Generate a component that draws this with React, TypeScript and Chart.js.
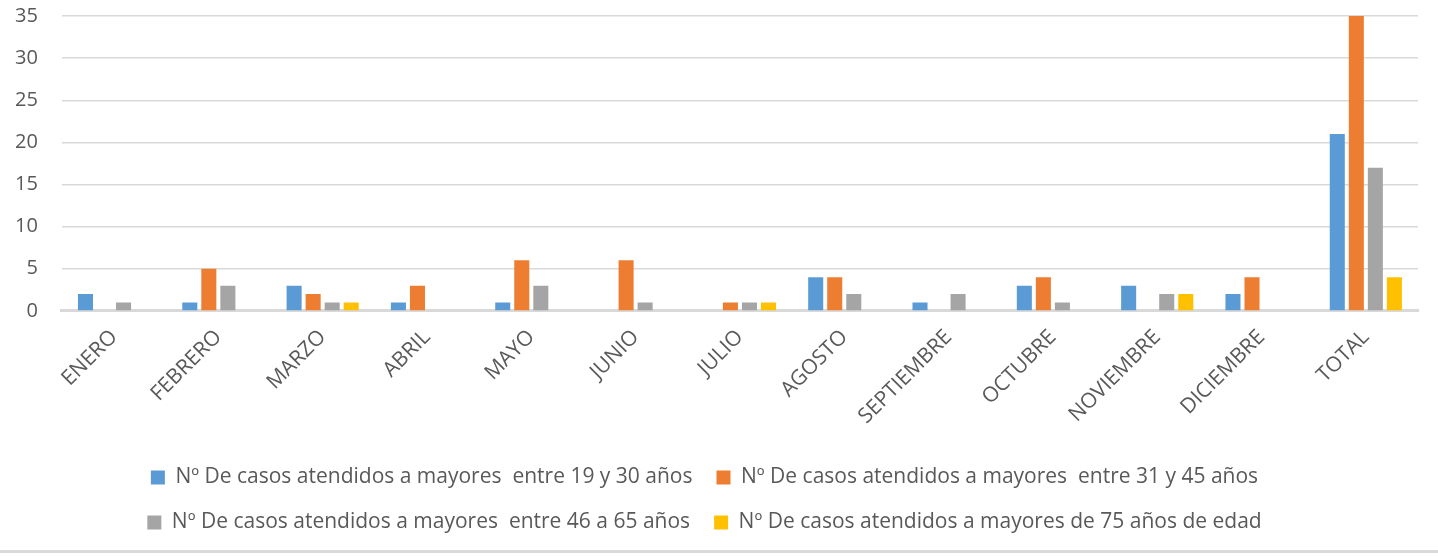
import React, { useEffect, useRef } from "react";
import { Chart, registerables } from "chart.js";

Chart.register(...registerables);

const categories = [
  "ENERO", "FEBRERO", "MARZO", "ABRIL", "MAYO", "JUNIO", "JULIO",
  "AGOSTO", "SEPTIEMBRE", "OCTUBRE", "NOVIEMBRE", "DICIEMBRE", "TOTAL",
];
const serie19a30 = [2, 1, 3, 1, 1, 0, 0, 4, 1, 3, 3, 2, 21];
const serie31a45 = [0, 5, 2, 3, 6, 6, 1, 4, 0, 4, 0, 4, 35];
const serie46a65 = [1, 3, 1, 0, 3, 1, 1, 2, 2, 1, 2, 0, 17];
const serie75 = [0, 0, 1, 0, 0, 0, 1, 0, 0, 0, 2, 0, 4];
const seriesNames = [
  "Nº De casos atendidos a mayores  entre 19 y 30 años",
  "Nº De casos atendidos a mayores  entre 31 y 45 años",
  "Nº De casos atendidos a mayores  entre 46 a 65 años",
  "Nº De casos atendidos a mayores de 75 años de edad",
];
const seriesColors = ["#5B9BD5", "#ED7D31", "#A5A5A5", "#FFC000"];
const yTicks = [0, 5, 10, 15, 20, 25, 30, 35];

const FONT = "'Open Sans', sans-serif";
const TEXT = "#595959";
const noPadding = () => ({ left: 0, top: 0, right: 0, bottom: 0 });

export default function App() {
  const ref = useRef<HTMLCanvasElement | null>(null);
  useEffect(() => {
    document.body.style.margin = "0";
    const values = [serie19a30, serie31a45, serie46a65, serie75];
    const chart = new Chart(ref.current!, {
      type: "bar",
      data: {
        labels: categories,
        datasets: values.map((v, i) => ({
          label: seriesNames[i],
          data: v,
          backgroundColor: seriesColors[i],
          borderWidth: 0,
          categoryPercentage: 0.73,
          barPercentage: 0.79,
        })),
      },
      options: {
        animation: false,
        responsive: false,
        maintainAspectRatio: false,
        layout: { padding: { top: 16, right: 20, left: -9, bottom: 0 } },
        scales: {
          x: {
            grid: { display: false, drawTicks: false },
            border: { display: true, color: "#D9D9D9", width: 3 },
            ticks: {
              color: TEXT,
              font: { family: FONT, size: 21 },
              maxRotation: 45,
              minRotation: 45,
              padding: 14,
              autoSkip: false,
            },
            afterFit: (scale: any) => {
              scale.paddingLeft = 0;
              scale.paddingRight = 0;
              scale.getPadding = noPadding;
            },
          },
          y: {
            min: 0,
            max: 35,
            afterBuildTicks: (axis: any) => {
              axis.ticks = yTicks.map((v) => ({ value: v }));
            },
            grid: { color: "#D9D9D9", lineWidth: 1.5, drawTicks: false },
            border: { display: false },
            ticks: {
              color: TEXT,
              font: { family: FONT, size: 20 },
              padding: 24,
            },
            afterFit: (scale: any) => {
              scale.paddingTop = 0;
              scale.paddingBottom = 0;
              scale.getPadding = noPadding;
            },
          },
        },
        plugins: {
          tooltip: { enabled: false },
          legend: {
            position: "bottom",
            labels: {
              color: TEXT,
              font: { family: FONT, size: 21 },
              boxWidth: 14,
              boxHeight: 14,
              padding: 24,
            },
          },
        },
      },
    });
    return () => chart.destroy();
  }, []);
  return (
    <div style={{ position: "relative", width: 1438, height: 557, background: "#fff" }}>
      <canvas ref={ref} width={1438} height={543} style={{ display: "block" }} />
      <div
        style={{
          position: "absolute",
          left: 0,
          top: 550,
          width: 1438,
          height: 3,
          background: "#D9D9D9",
        }}
      />
    </div>
  );
}
